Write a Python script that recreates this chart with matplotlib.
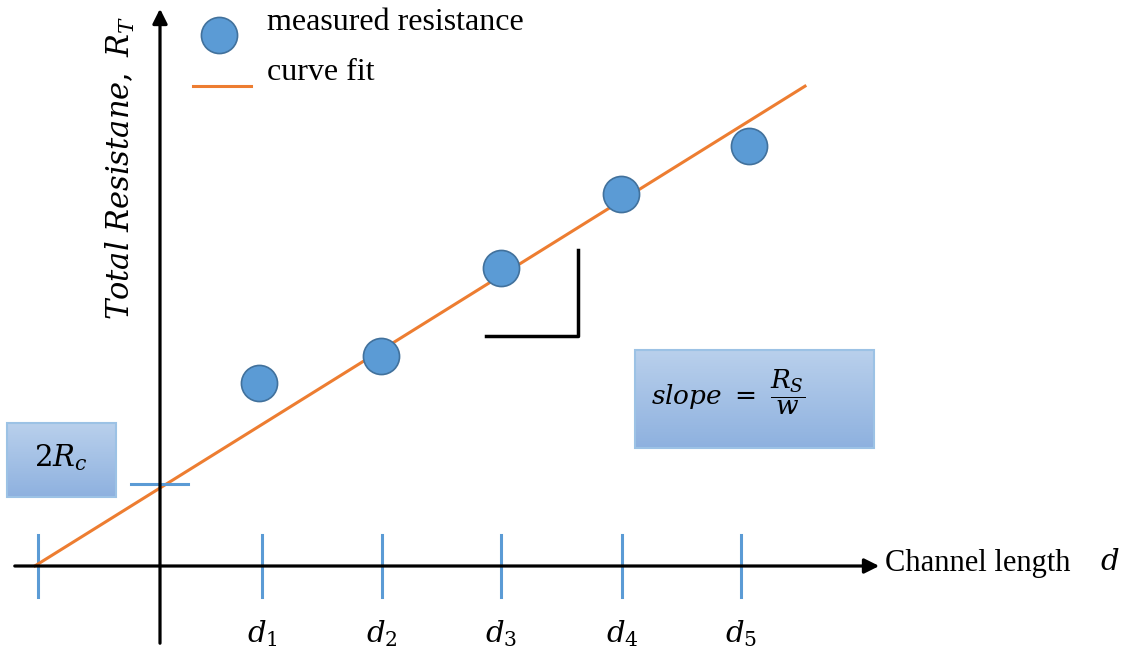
import numpy as np
import matplotlib.pyplot as plt
from matplotlib.patches import Rectangle

# transfer length method sketch: total resistance vs channel length
d_pos = [102, 222, 341, 462, 581]
d_labels = [r'$d_1$', r'$d_2$', r'$d_3$', r'$d_4$', r'$d_5$']
meas_d = [99, 221, 341, 461, 589]
meas_R = [183, 210, 298, 372, 420]
two_Rc = 78
slope = 0.623
fit_range = [-125, 645]
x_intercept = -122

blue = '#5b9bd5'
orange = '#ed7d31'

plt.rcParams['mathtext.fontset'] = 'dejavuserif'

fig = plt.figure(figsize=(11.28, 6.54), dpi=100)
ax = fig.add_axes([0, 0, 1, 1])
ax.set_xlim(-160, 968)
ax.set_ylim(-88, 566)
ax.axis('off')

# axes with arrow heads
ax.annotate('', xy=(722, 0), xytext=(-148, 0),
            arrowprops=dict(arrowstyle='-|>', lw=2.3, color='k', mutation_scale=22))
ax.annotate('', xy=(0, 560), xytext=(0, -80),
            arrowprops=dict(arrowstyle='-|>', lw=2.3, color='k', mutation_scale=22))

# blue ticks on the channel length axis
for x in [x_intercept] + d_pos:
    ax.plot([x, x], [-31, 31], color=blue, lw=2.2)
for x, lab in zip(d_pos, d_labels):
    ax.text(x, -68, lab, ha='center', va='center', fontsize=21)

# fitted line and intercept marker
fx = np.array(fit_range)
ax.plot(fx, two_Rc + slope * fx, color=orange, lw=2.2, zorder=2)
ax.plot([-29, 28], [two_Rc + 4, two_Rc + 4], color=blue, lw=2.2)

# measurements
ax.plot(meas_d, meas_R, 'o', ms=26, mfc=blue, mec='#41719c', mew=1.2, zorder=3)

# slope bracket
ax.plot([326, 418, 418], [230, 230, 316], color='k', lw=2.5)


def grad_box(x0, y0, w, h):
    g = np.linspace(0, 1, 100).reshape(-1, 1)
    cmap = plt.matplotlib.colors.LinearSegmentedColormap.from_list('b', ['#8eb1df', '#b9d0ec'])
    ax.imshow(g, extent=(x0, x0 + w, y0, y0 + h), origin='lower', cmap=cmap,
              aspect='auto', zorder=1)
    ax.add_patch(Rectangle((x0, y0), w, h, fill=False, ec='#9cc2e5', lw=1.5, zorder=2))


grad_box(-153, 69, 109, 74)
ax.text(-99, 108, r'$2R_c$', ha='center', va='center', fontsize=21, zorder=4)
grad_box(475, 118, 239, 98)
ax.text(568, 174, r'$slope\ =\ \dfrac{R_S}{w}$', ha='center', va='center',
        fontsize=19, zorder=4)
ax.set_xlim(-160, 968)
ax.set_ylim(-88, 566)

# axis titles
ax.text(-40, 398, r'$Total\ Resistane,\ R_T$', rotation=90, ha='center', va='center',
        fontsize=22)
ax.text(725, 3, 'Channel length', ha='left', va='center', fontsize=22,
        family='Liberation Serif')
ax.text(940, 4, r'$d$', ha='left', va='center', fontsize=21)

# legend
ax.plot([59], [531], 'o', ms=26, mfc=blue, mec='#41719c', mew=1.2)
ax.text(107, 544, 'measured resistance', ha='left', va='center', fontsize=23,
        family='Liberation Serif')
ax.plot([33, 91], [480, 480], color=orange, lw=2.2)
ax.text(107, 494, 'curve fit', ha='left', va='center', fontsize=23,
        family='Liberation Serif')

fig.savefig('out.png', dpi=100)
